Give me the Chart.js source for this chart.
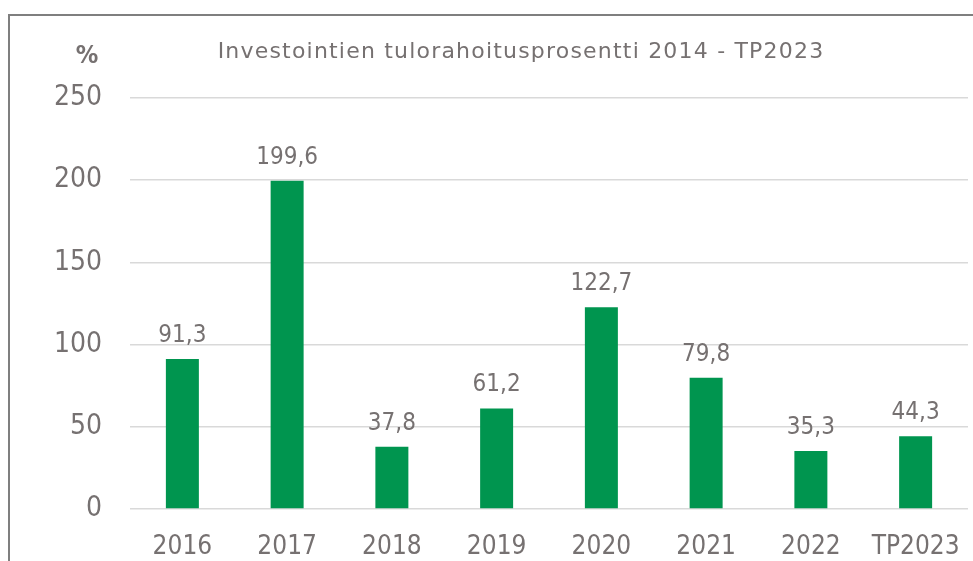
<!DOCTYPE html>
<html>
<head>
<meta charset="utf-8">
<script src="https://cdn.jsdelivr.net/npm/chart.js@4"></script>
<style>
  html, body { margin: 0; padding: 0; background: #fff; }
  #wrap { position: relative; width: 973px; height: 561px; }
  #frame { position: absolute; left: 8px; top: 14px; right: 0; bottom: 0;
           border-left: 2px solid #7f7f7f; border-top: 2px solid #7f7f7f; }
  canvas { position: absolute; left: 0; top: 0; }
</style>
</head>
<body>
<div id="wrap">
  <div id="frame"></div>
  <canvas id="chart" width="973" height="561"></canvas>
</div>
<script>
// Investointien tulorahoitusprosentti
const years = ['2016', '2017', '2018', '2019', '2020', '2021', '2022', 'TP2023'];
const percentages = [91.3, 199.6, 37.8, 61.2, 122.7, 79.8, 35.3, 44.3];
const yTicks = [0, 50, 100, 150, 200, 250];

const chartTitle = 'Investointien tulorahoitusprosentti 2014 - TP2023';
const unitLabel = '%';

const textColor = '#767171';
const fontFamily = '"DejaVu Sans", sans-serif';
const narrowFamily = '"DejaVu Sans Condensed", "DejaVu Sans", sans-serif';

// Draws title, unit and value labels above bars
const labelPlugin = {
    id: 'labels',
    afterDatasetsDraw(chart) {
        const ctx = chart.ctx;
        ctx.save();
        ctx.fillStyle = textColor;
        ctx.textAlign = 'center';
        ctx.textBaseline = 'alphabetic';
        ctx.font = '24px ' + narrowFamily;
        chart.getDatasetMeta(0).data.forEach((bar, i) => {
            const txt = percentages[i].toFixed(1).replace('.', ',');
            ctx.fillText(txt, bar.x, bar.y - 17);
        });

        ctx.font = '22px ' + fontFamily;
        ctx.letterSpacing = '1.2px';
        ctx.fillText(chartTitle, 521, 58);
        ctx.letterSpacing = '0px';
        ctx.font = 'bold 25px ' + narrowFamily;
        ctx.fillText(unitLabel, 87, 63);
        ctx.restore();
    }
};

new Chart(document.getElementById('chart'), {
    type: 'bar',
    data: {
        labels: years,
        datasets: [{
            data: percentages,
            backgroundColor: '#00954f',
            borderWidth: 0,
            categoryPercentage: 1,
            barPercentage: 0.315
        }]
    },
    options: {
        responsive: false,
        animation: false,
        layout: { padding: { top: 98, right: 5, left: 0, bottom: 0 } },
        plugins: {
            legend: { display: false },
            title: { display: false },
            tooltip: { enabled: false }
        },
        scales: {
            y: {
                min: 0,
                max: 250,
                afterFit: s => { s.width = 130; },
                afterBuildTicks: s => { s.ticks = yTicks.map(v => ({ value: v })); },
                grid: { color: '#d9d9d9', lineWidth: 1.5, drawTicks: false },
                border: { display: false },
                ticks: {
                    color: textColor,
                    font: { size: 28, family: narrowFamily },
                    padding: 28
                }
            },
            x: {
                afterFit: s => { s.height = 52; s.paddingRight = 0; },
                grid: { display: false },
                border: { display: false },
                ticks: {
                    color: textColor,
                    font: { size: 26, family: narrowFamily },
                    padding: 15,
                    maxRotation: 0,
                    autoSkip: false
                }
            }
        }
    },
    plugins: [labelPlugin]
});
</script>
</body>
</html>
